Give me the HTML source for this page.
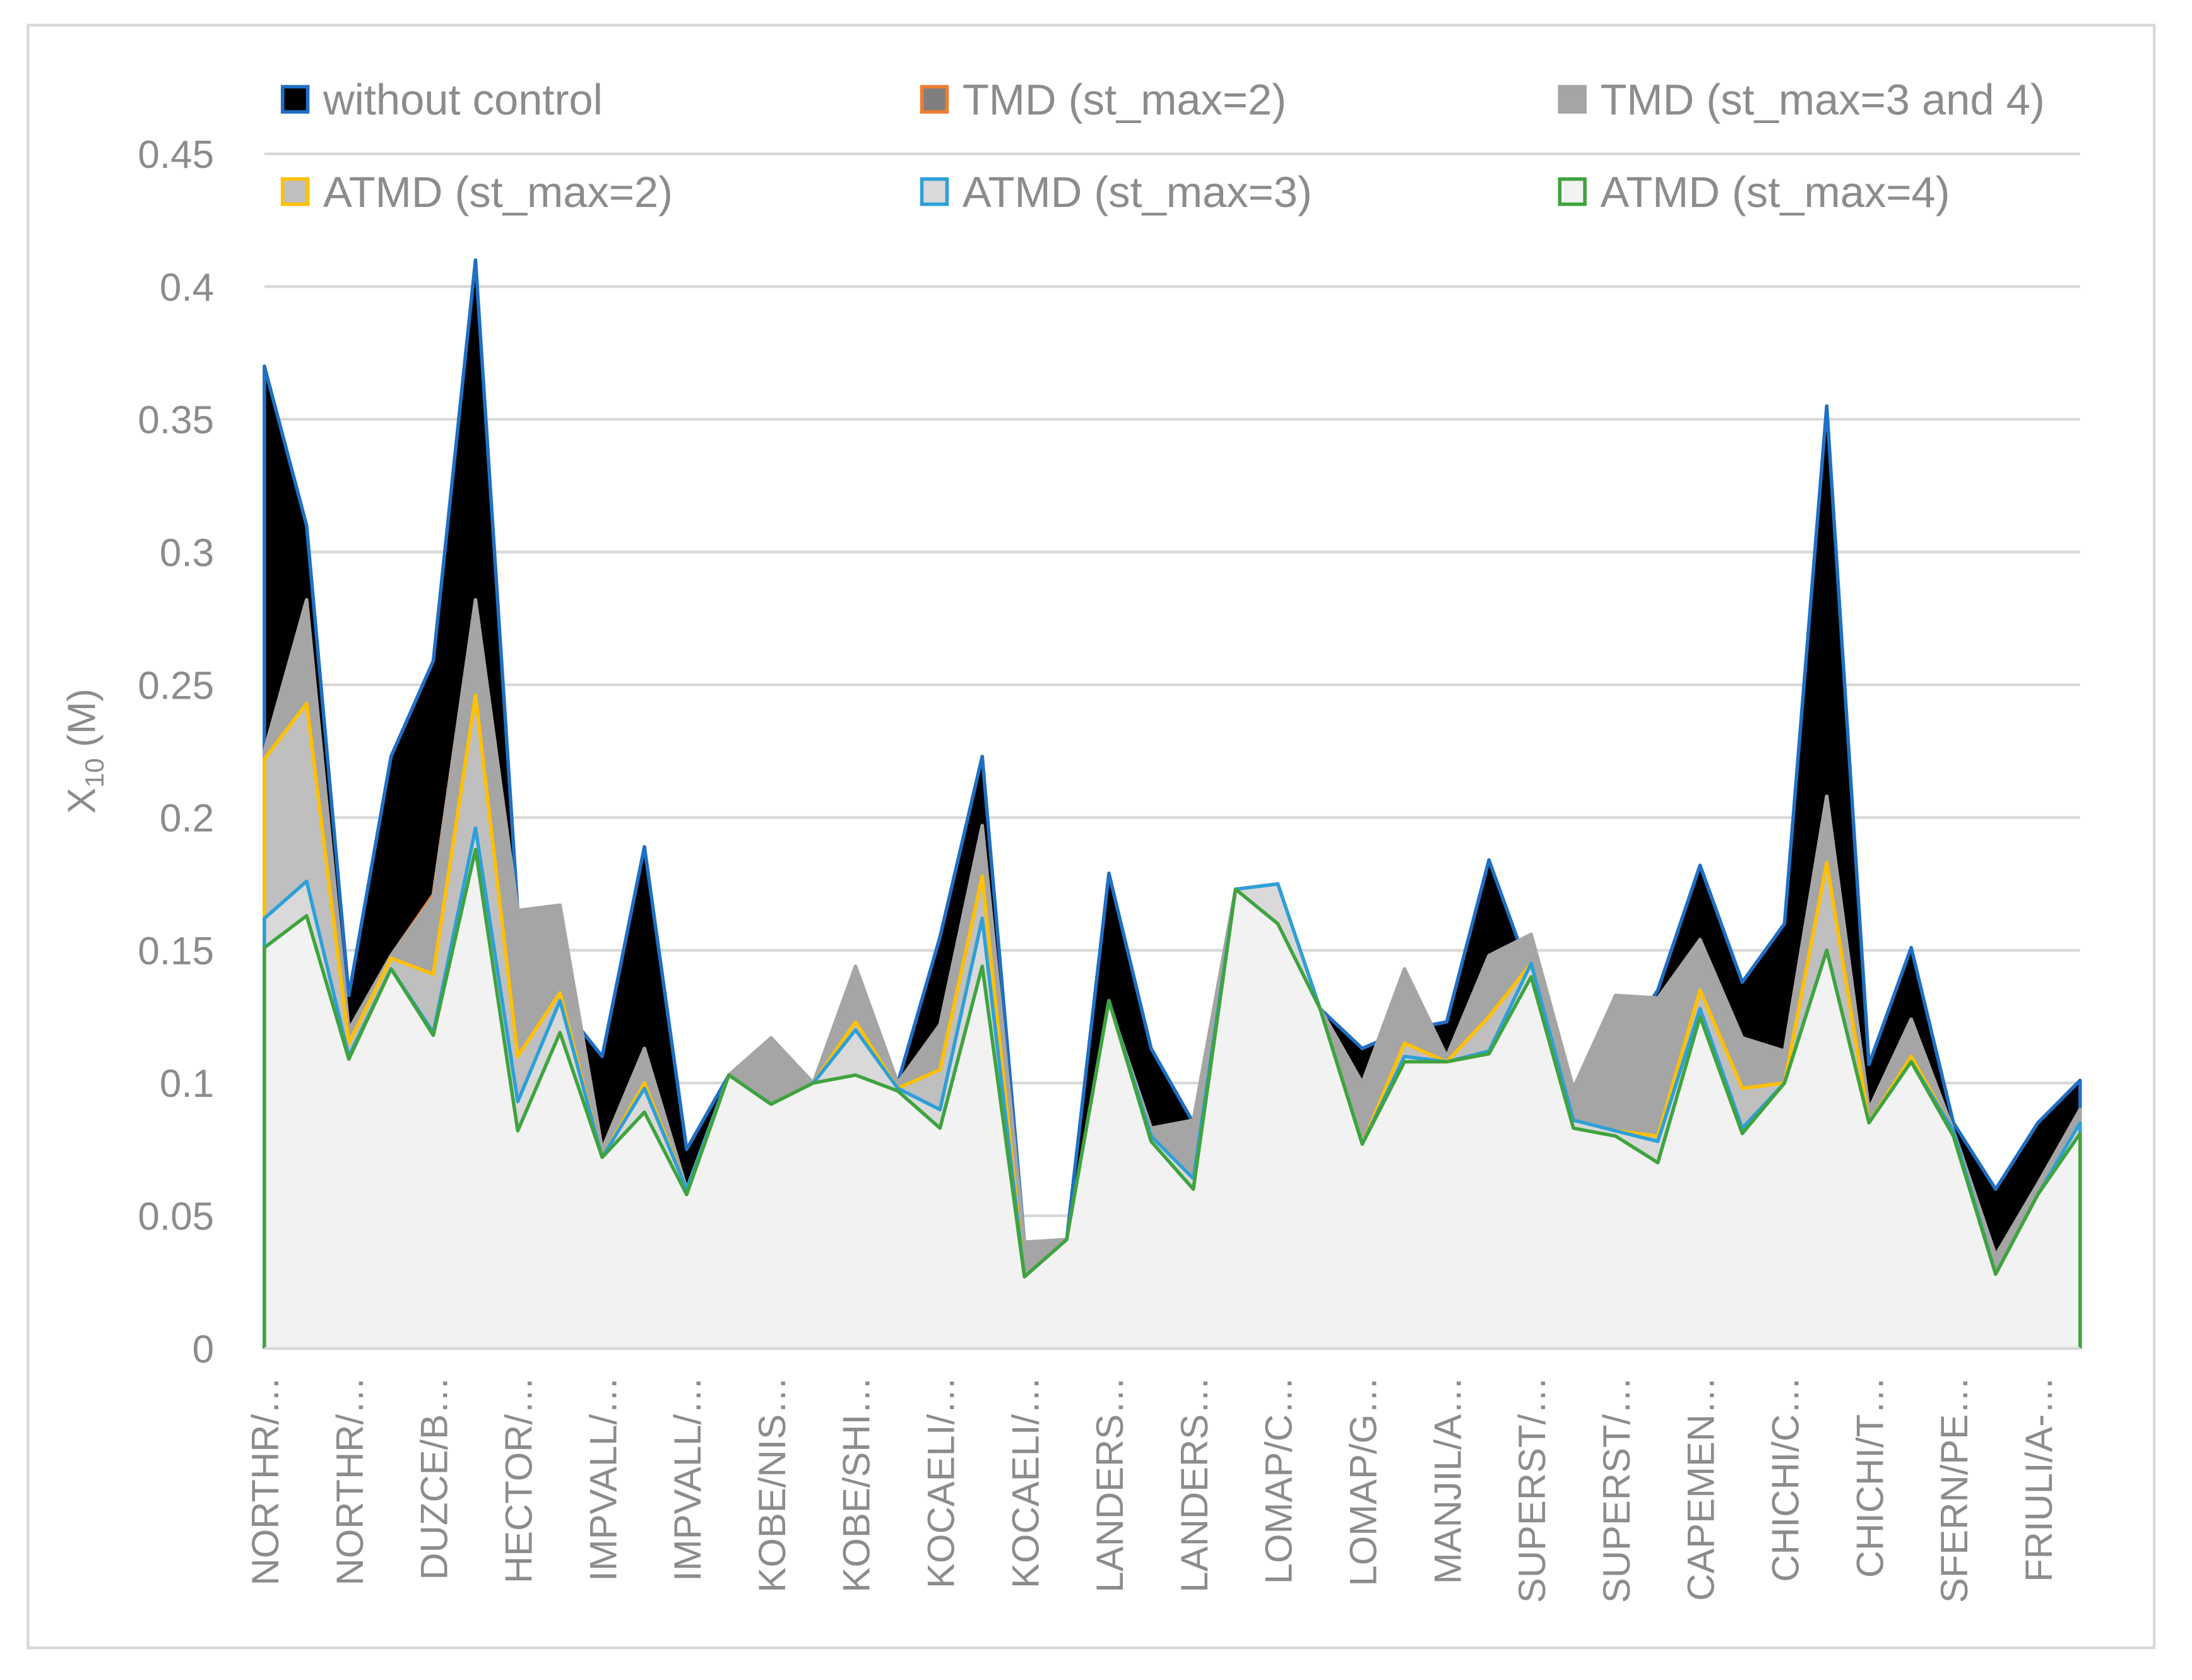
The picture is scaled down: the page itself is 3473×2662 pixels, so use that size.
<!DOCTYPE html>
<html><head><meta charset="utf-8"><style>
html,body{margin:0;padding:0;background:#fff;}
svg{display:block;font-family:"Liberation Sans",sans-serif;}
</style></head><body>
<svg id="chart" width="3473" height="2662" viewBox="0 0 1567 1201" preserveAspectRatio="none" xmlns="http://www.w3.org/2000/svg">
<rect x="20" y="18" width="1520" height="1160" fill="#fff" stroke="#d9d9d9" stroke-width="2"/>
<g id="grid"></g>
<g id="areas"></g>
<g id="yticks"></g>
<g id="xticks"></g>
<text transform="translate(68,537) rotate(-90)" text-anchor="middle" font-size="28" fill="#8c8c8c">X<tspan font-size="19" dy="6">10</tspan><tspan dy="-6"> (M)</tspan></text>
<g id="legend"></g>
</svg>
<script>
const categories = ["NORTHR/…","a","NORTHR/…","b","DUZCE/B…","c","HECTOR/…","d","IMPVALL/…","e","IMPVALL/…","f","KOBE/NIS…","g","KOBE/SHI…","h","KOCAELI/…","i","KOCAELI/…","j","LANDERS…","k","LANDERS…","l","LOMAP/C…","m","LOMAP/G…","n","MANJIL/A…","o","SUPERST/…","p","SUPERST/…","q","CAPEMEN…","r","CHICHI/C…","s","CHICHI/T…","t","SFERN/PE…","u","FRIULI/A-…","v"];
const withoutControl = [0.37,0.31,0.133,0.223,0.259,0.41,0.165,0.13,0.11,0.189,0.075,0.103,0.11,0.1,0.1,0.1,0.155,0.223,0.04,0.041,0.179,0.113,0.085,0.173,0.175,0.128,0.113,0.12,0.123,0.184,0.14,0.085,0.11,0.135,0.182,0.138,0.16,0.355,0.107,0.151,0.085,0.06,0.085,0.101];
const tmd2 = [0.225,0.282,0.12,0.148,0.171,0.282,0.11,0.135,0.075,0.113,0.06,0.103,0.092,0.1,0.123,0.1,0.105,0.178,0.027,0.041,0.13,0.08,0.064,0.173,0.175,0.128,0.1,0.115,0.11,0.125,0.145,0.086,0.082,0.08,0.154,0.117,0.112,0.208,0.09,0.124,0.082,0.035,0.062,0.09];
const tmd34 = [0.225,0.282,0.12,0.148,0.17,0.282,0.165,0.167,0.075,0.113,0.06,0.103,0.117,0.1,0.144,0.1,0.122,0.197,0.04,0.041,0.13,0.083,0.086,0.173,0.175,0.128,0.1,0.143,0.11,0.148,0.156,0.098,0.133,0.132,0.154,0.117,0.112,0.208,0.09,0.124,0.082,0.035,0.062,0.09];
const atmd2 = [0.222,0.243,0.115,0.147,0.141,0.246,0.11,0.134,0.072,0.1,0.06,0.103,0.092,0.1,0.123,0.098,0.105,0.178,0.027,0.041,0.131,0.08,0.064,0.173,0.175,0.128,0.077,0.115,0.108,0.125,0.145,0.086,0.082,0.08,0.135,0.098,0.1,0.183,0.085,0.11,0.082,0.028,0.058,0.085];
const atmd3 = [0.162,0.176,0.11,0.143,0.119,0.196,0.093,0.131,0.072,0.098,0.06,0.103,0.092,0.1,0.12,0.098,0.09,0.162,0.027,0.041,0.131,0.08,0.064,0.173,0.175,0.128,0.077,0.11,0.108,0.112,0.145,0.086,0.082,0.078,0.128,0.083,0.1,0.15,0.085,0.108,0.082,0.028,0.058,0.085];
const atmd4 = [0.151,0.163,0.109,0.143,0.118,0.188,0.082,0.119,0.072,0.089,0.058,0.103,0.092,0.1,0.103,0.097,0.083,0.144,0.027,0.041,0.131,0.078,0.06,0.173,0.16,0.128,0.077,0.108,0.108,0.111,0.14,0.083,0.08,0.07,0.125,0.081,0.1,0.15,0.085,0.108,0.08,0.028,0.058,0.081];
const yTicks = [0,0.05,0.1,0.15,0.2,0.25,0.3,0.35,0.4,0.45];
const yTickLabels = ["0","0.05","0.1","0.15","0.2","0.25","0.3","0.35","0.4","0.45"];
const seriesNames = ["without control","TMD (st_max=2)","TMD (st_max=3 and 4)","ATMD (st_max=2)","ATMD (st_max=3)","ATMD (st_max=4)"];

const NS="http://www.w3.org/2000/svg";
const X0=189,X1=1487,Y0=964,YTOP=110,YMAX=0.45;
const xs=i=>X0+i*(X1-X0)/(categories.length-1);
const ys=v=>Y0-v/YMAX*(Y0-YTOP);
function mk(tag,parent){const e=document.createElementNS(NS,tag);parent.appendChild(e);return e;}

const grid=document.getElementById('grid'),yt=document.getElementById('yticks');
yTicks.forEach((t,k)=>{
  const l=mk('line',grid);
  
  
  l.setAttribute('x1',X0);l.setAttribute('x2',X1);l.setAttribute('y1',ys(t));l.setAttribute('y2',ys(t));
  l.setAttribute('stroke','#d9d9d9');l.setAttribute('stroke-width','2');
  const tx=mk('text',yt);
  
  
  tx.setAttribute('x',153);tx.setAttribute('y',ys(t)+10);tx.setAttribute('text-anchor','end');
  tx.setAttribute('font-size','28');tx.setAttribute('fill','#8c8c8c');tx.textContent=yTickLabels[k];
});

const series=[withoutControl,tmd2,tmd34,atmd2,atmd3,atmd4];
const fills=["#000000","#7f7f7f","#a5a5a5","#bfbfbf","#d9d9d9","#f2f2f2"];
const strokes=["#1f6fc4","#ed7d31","#a5a5a5","#ffc000","#2e9fd8","#3fa33f"];
const areas=document.getElementById('areas');
series.forEach((s,k)=>{
  let d=`M${xs(0)},${Y0}`;
  s.forEach((v,i)=>{d+=` L${xs(i)},${ys(v)}`;});
  d+=` L${xs(s.length-1)},${Y0}`;
  const p=mk('path',areas);
  
  
  p.setAttribute('d',d);p.setAttribute('fill',fills[k]);
  p.setAttribute('stroke',strokes[k]);p.setAttribute('stroke-width','2.5');p.setAttribute('stroke-linejoin','round');
});
const axis=mk('line',areas);


axis.setAttribute('x1',X0);axis.setAttribute('x2',X1);axis.setAttribute('y1',Y0);axis.setAttribute('y2',Y0);
axis.setAttribute('stroke','#d9d9d9');axis.setAttribute('stroke-width','2');

const xt=document.getElementById('xticks');
categories.forEach((c,i)=>{
  if(i%2) return;
  const t=mk('text',xt);
  
  
  t.setAttribute('transform',`translate(${xs(i)+10},984) rotate(-90)`);
  t.setAttribute('text-anchor','end');t.setAttribute('font-size','27');t.setAttribute('fill','#8c8c8c');
  t.textContent=c;
});

const lg=document.getElementById('legend');
const lpos=[[202,62],[659,62],[1115,62],[202,128],[659,128],[1115,128]];
seriesNames.forEach((n,k)=>{
  const r=mk('rect',lg);
  
  
  r.setAttribute('x',lpos[k][0]);r.setAttribute('y',lpos[k][1]);r.setAttribute('width',18);r.setAttribute('height',18);
  r.setAttribute('fill',fills[k]);r.setAttribute('stroke',strokes[k]);r.setAttribute('stroke-width','2.5');
  const t=mk('text',lg);
  
  
  t.setAttribute('x',lpos[k][0]+29);t.setAttribute('y',lpos[k][1]+20);
  t.setAttribute('font-size','31');t.setAttribute('fill','#8c8c8c');t.textContent=n;
});
</script>
</body></html>
